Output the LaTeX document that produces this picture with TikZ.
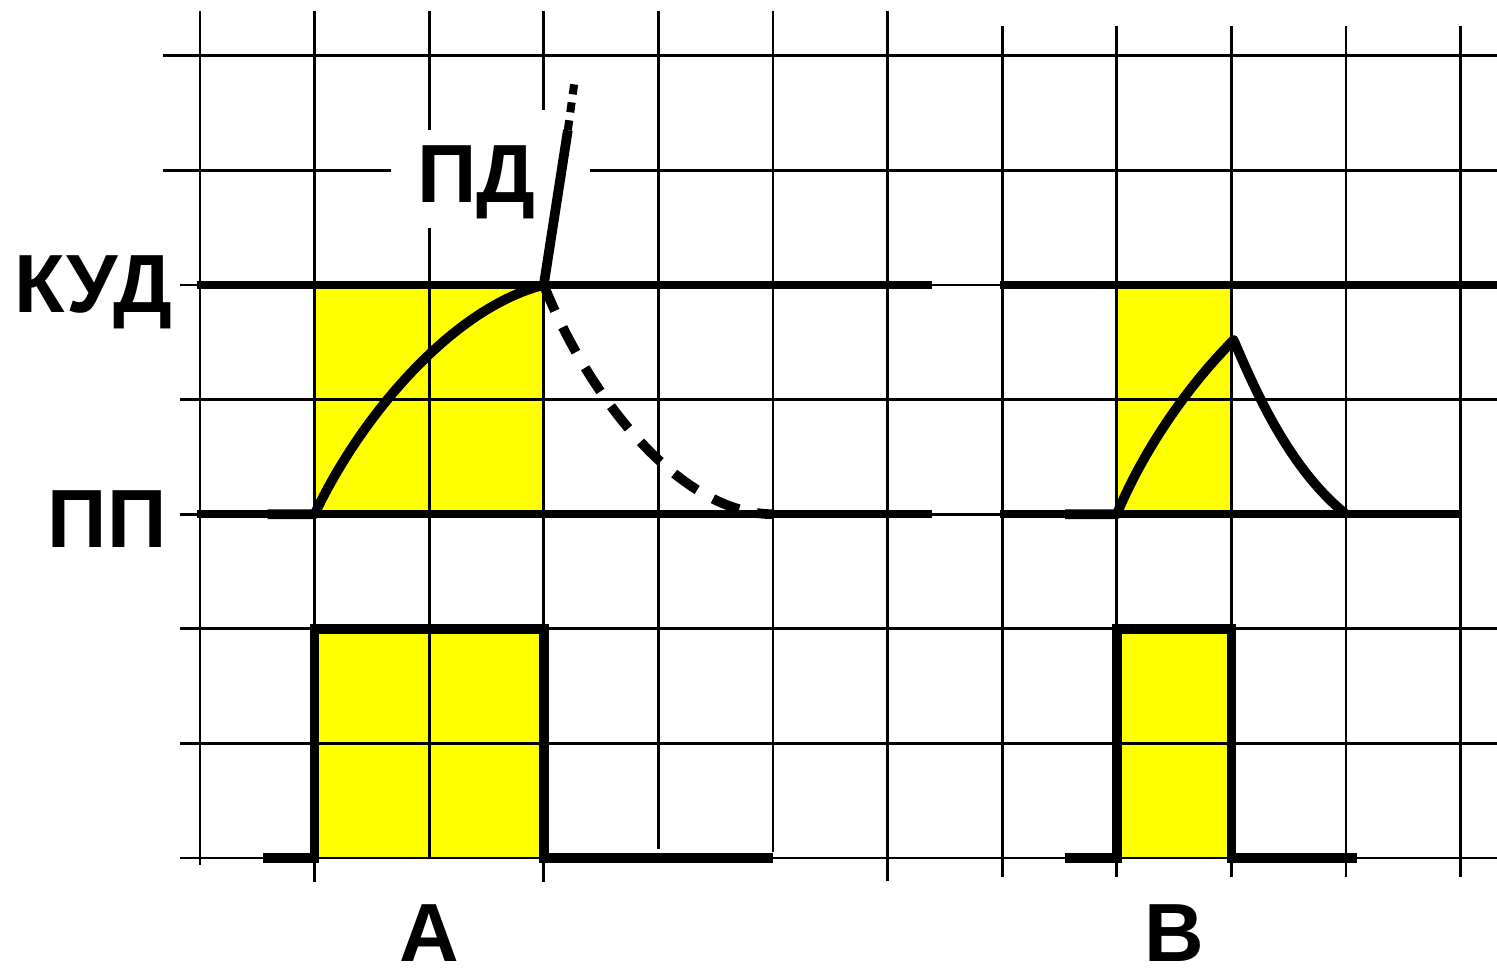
\documentclass[tikz,border=0pt]{standalone}
\usepackage{fontspec}
\setmainfont{Liberation Sans}
\usetikzlibrary{positioning}
\definecolor{pulse}{HTML}{FFFF00}
\definecolor{ink}{HTML}{000000}

\begin{document}
\begin{tikzpicture}[
    every node/.style={font=\fontsize{20.5}{24}\selectfont\bfseries, text=ink, inner sep=0pt},
    grid/.style={draw=ink, line width=0.7pt},
    level/.style={draw=ink, line width=2pt},
    trace/.style={draw=ink, line width=2.4pt, line join=round},
    edgeline/.style={draw=ink, line width=2.4pt, line join=miter},
    zone/.style={fill=pulse},
  ]
  \fill[white] (-1.745,-1.003) rectangle (11.318,7.487);
  \useasboundingbox (-1.745,-1.003) rectangle (11.318,7.487);

  % yellow zones under the grid
  \fill[zone] (1,3) rectangle (3,5);
  \fill[zone] (1,0) rectangle (3,2);
  \fill[zone] (8,3) rectangle (9,5);
  \fill[zone] (8,0) rectangle (9,2);

  % grid, vertical lines
  \foreach \i/\bot in {0/-0.06, 1/-0.21, 4/0.08, 5/0.05, 6/-0.2}
    \draw[grid] (\i,7.39) -- (\i,\bot);
  \foreach \i in {7,...,11}
    \draw[grid] (\i,7.26) -- (\i,-0.17);
  % broken around the label
  \draw[grid] (2,7.39) -- (2,6.35) (2,5.5) -- (2,0);
  \draw[grid] (3,7.39) -- (3,6.53) (3,5) -- (3,-0.21);

  % grid, horizontal lines
  \draw[grid] (-0.32,7) -- (11.32,7);
  \draw[grid] (-0.32,6) -- (1.67,6) (3.40,6) -- (11.32,6);
  \foreach \j in {0,1,2,4,5}
    \draw[grid] (-0.17,\j) -- (11.32,\j);
  \draw[grid] (-0.17,3) -- (11,3);

  % the two levels
  \draw[level] (-0.03,5) -- (6.39,5) (6.98,5) -- (11.32,5);
  \draw[level] (-0.03,3) -- (6.39,3) (6.98,3) -- (11,3);

  % stimuli
  \draw[edgeline] (0.55,0) -- (1,0) -- (1,2) -- (3,2) -- (3,0) -- (5,0);
  \draw[edgeline] (7.55,0) -- (8,0) -- (8,2) -- (9,2) -- (9,0) -- (10.1,0);

  % responses
  \draw[trace] (0.59,3) -- (1,3) .. controls (1.4,3.85) and (2.2,4.8) .. (3,5);
  \draw[trace] (3,5) -- (3.21,6.35);
  \draw[ink, line width=2pt, dash pattern=on 2.5pt off 2pt] (3.21,6.35) -- (3.27,6.79);
  \draw[trace, dash pattern=on 7pt off 4.5pt] (3,5) .. controls (3.4,4.0) and (4.2,3.0) .. (5,3);
  \draw[trace] (7.55,3) -- (8,3) .. controls (8.25,3.6) and (8.65,4.15) .. (9.02,4.52)
               .. controls (9.2,4.1) and (9.5,3.4) .. (10,3);

  % labels
  \node[anchor=base] (kud) at (-0.93,4.76) {КУД};
  \node[anchor=base] (pp) at (-0.81,2.71) {ПП};
  \node[anchor=base] (pd) at (2.41,5.72) {ПД};
  \node[anchor=base] (caseA) at (2,-0.9) {А};
  \node[anchor=base] (caseB) at (8.5,-0.9) {В};
\end{tikzpicture}
\end{document}
